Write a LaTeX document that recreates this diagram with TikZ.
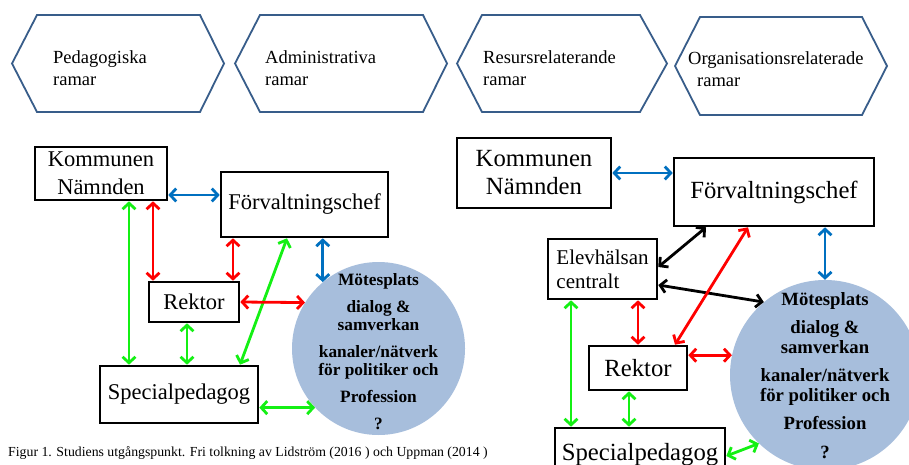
\documentclass[tikz,border=0pt]{standalone}
\usepackage{fontspec}
\setmainfont{Liberation Serif}
\usetikzlibrary{arrows.meta,positioning,calc}
\definecolor{hexblue}{RGB}{56,93,138}
\definecolor{meetblue}{RGB}{167,190,220}
\definecolor{linkblue}{RGB}{0,112,192}
\definecolor{linkgreen}{RGB}{20,240,20}
\definecolor{linkred}{RGB}{255,0,0}

\begin{document}
\begin{tikzpicture}[x=1pt, y=-1pt,
    hexa/.style={draw=hexblue, line width=1.8pt, line join=miter},
    hextxt/.style={anchor=west, align=left, inner sep=0pt, font=\fontsize{18.5}{22}\selectfont},
    box/.style={draw, line width=2.6pt, inner sep=0pt, align=center, font=\fontsize{22.5}{28}\selectfont},
    boxR/.style={box, font=\fontsize{24.7}{28}\selectfont},
    meet/.style={circle, fill=meetblue, inner sep=0pt},
    meettxt/.style={align=center, inner sep=0pt, font=\bfseries\fontsize{17.3}{18.5}\selectfont},
    link/.style={{Straight Barb[length=6pt,width=13pt]}-{Straight Barb[length=6pt,width=13pt]}, line width=2.8pt}
]
\clip (0,0) rectangle (909,465);
\fill[white] (0,0) rectangle (909,465);

% frames (top row)
\foreach \xa/\xb/\xc/\xd/\ya/\yb in {12/37/200/224/15/112, 235/260/423/447/15/112, 457/482/640/667/15/112, 675/700/862/887/17/115}
    \draw[hexa] (\xa,{(\ya+\yb)/2}) -- (\xb,\ya) -- (\xc,\ya) -- (\xd,{(\ya+\yb)/2}) -- (\xc,\yb) -- (\xb,\yb) -- cycle;

\node[hextxt] (PedTxt) at (53,68) {Pedagogiska\\ramar};
\node[hextxt] (AdmTxt) at (265,68) {Administrativa\\ramar};
\node[hextxt] (ResTxt) at (483,68) {Resursrelaterande\\ramar};
\node[hextxt] (OrgTxt) at (688,69) {Organisationsrelaterade\\\hspace{9pt}ramar};

% left diagram
\node[box, minimum width=132pt, minimum height=53pt] (KomL) at (101,173.5) {Kommunen\\Nämnden};
\node[box, minimum width=167pt, minimum height=65pt] (ForvL) at (304.5,204.5) {Förvaltningschef};
\node[box, minimum width=90pt, minimum height=40pt] (RektL) at (194,302) {Rektor};
\node[box, minimum width=158pt, minimum height=57pt] (SpecL) at (179,394.5) {Specialpedagog};
\node[meet, minimum size=173pt] (MoteL) at (378.5,348.5) {};
\node[meettxt] (MoteLTxt) at (378.5,352) {Mötesplats\\[8pt]dialog \&\\samverkan\\[8pt]kanaler/nätverk\\för politiker och\\[8pt]Profession\\[9pt]?};

\draw[link, linkblue] (KomL.east |- 0,195) -- (ForvL.west |- 0,195);
\draw[link, linkred] (KomL.south -| 153,0) -- (RektL.north -| 153,0);
\draw[link, linkgreen] (KomL.south -| 129,0) -- (SpecL.north -| 129,0);
\draw[link, linkred] (ForvL.south -| 233,0) -- (RektL.north -| 233,0);
\draw[link, linkblue] (MoteL.130 |- ForvL.south) -- (MoteL.130);
\draw[link, linkgreen] (ForvL.south -| 287,0) -- (SpecL.north -| 240,0);
\draw[link, linkred] (RektL.east) -- (MoteL.148);
\draw[link, linkgreen] (RektL.south -| 187,0) -- (SpecL.north -| 187,0);
\draw[link, linkgreen] (MoteL.223 -| SpecL.east) -- (MoteL.223);

% right diagram
\node[boxR, minimum width=154pt, minimum height=70pt] (KomR) at (534,173) {Kommunen\\Nämnden};
\node[boxR, minimum width=200pt, minimum height=68pt] (ForvR) at (774,192) {Förvaltningschef};
\node[box, minimum width=109pt, minimum height=60pt, align=left, font=\fontsize{21}{24}\selectfont] (ElevR) at (602.5,269) {Elevhälsan\\centralt};
\node[boxR, minimum width=98pt, minimum height=44pt] (RektR) at (638,368) {Rektor};
\node[boxR, minimum width=170pt, minimum height=54pt] (SpecR) at (640,455) {Specialpedagog};
\node[meet, minimum size=190pt] (MoteR) at (825,375) {};
\node[meettxt, font=\bfseries\fontsize{18.7}{20}\selectfont] (MoteRTxt) at (825,376) {Mötesplats\\[8pt]dialog \&\\samverkan\\[8pt]kanaler/nätverk\\för politiker och\\[8pt]Profession\\[9pt]?};

\draw[link, linkblue] (KomR.east) -- (KomR.east -| ForvR.west);
\draw[link] (ElevR.east |- 0,267) -- (ForvR.south -| 706,0);
\draw[link] (ElevR.east |- 0,285) -- (MoteR.130);
\draw[link, linkred] (ForvR.south -| 748,0) -- (RektR.north -| 675,0);
\draw[link, linkblue] (MoteR.north |- ForvR.south) -- (MoteR.north);
\draw[link, linkred] (RektR.north |- ElevR.south) -- (RektR.north);
\draw[link, linkgreen] (ElevR.south -| 571,0) -- (SpecR.north -| 571,0);
\draw[link, linkred] (MoteR.168 -| RektR.east) -- (MoteR.168);
\draw[link, linkgreen] (RektR.south -| 629,0) -- (SpecR.north -| 629,0);
\draw[link, linkgreen] (SpecR.east |- 0,456) -- (MoteR.226);

\node[anchor=west, inner sep=0pt, font=\fontsize{13.8}{16}\selectfont] (Caption) at (8,453) {Figur 1. Studiens utgångspunkt. Fri tolkning av Lidström (2016 ) och Uppman (2014 )};
\end{tikzpicture}
\end{document}
